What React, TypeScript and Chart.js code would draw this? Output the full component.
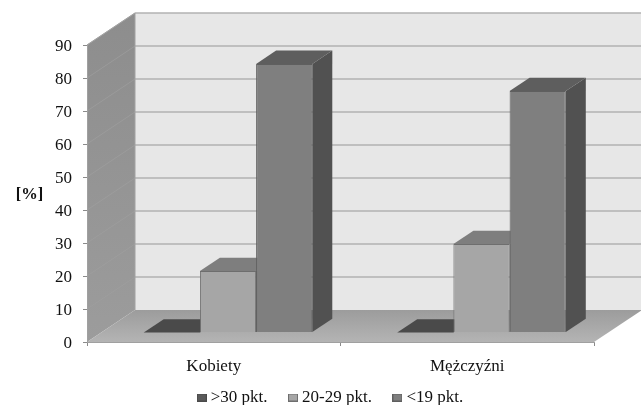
import React, { useEffect, useRef } from "react";
import { Chart, registerables } from "chart.js";

Chart.register(...registerables);

const categories = ["Kobiety", "Mężczyźni"];
const seriesNames = [">30 pkt.", "20-29 pkt.", "<19 pkt."];
const over30 = [0, 0];
const from20to29 = [18.6, 26.8];
const under19 = [81.4, 73.2];

const SERIF = "'Liberation Serif', 'Times New Roman', serif";
const WALL_DX = 48;
const WALL_DY = 32;
const BAR_FRONT_DX = 14.25;
const BAR_FRONT_DY = 9.5;
const BAR_DEPTH_DX = 20;
const BAR_DEPTH_DY = 13.3;

const shades = [
  { front: "#5a5a5a", top: "#4a4a4a", side: "#3c3c3c", line: "#4a4a4a" },
  { front: "#a6a6a6", top: "#7e7e7e", side: "#6c6c6c", line: "#6e6e6e" },
  { front: "#7f7f7f", top: "#5e5e5e", side: "#515151", line: "#5f5f5f" },
];

function poly(ctx: CanvasRenderingContext2D, pts: number[][], fill: string | CanvasGradient, stroke?: string) {
  ctx.beginPath();
  pts.forEach(([x, y], i) => (i ? ctx.lineTo(x, y) : ctx.moveTo(x, y)));
  ctx.closePath();
  ctx.fillStyle = fill;
  ctx.fill();
  if (stroke) {
    ctx.strokeStyle = stroke;
    ctx.lineWidth = 1;
    ctx.stroke();
  }
}

function legendSwatch(fill: string, line: string) {
  const c = document.createElement("canvas");
  c.width = 10;
  c.height = 8;
  const g = c.getContext("2d") as CanvasRenderingContext2D;
  g.fillStyle = fill;
  g.fillRect(0, 0, 10, 8);
  g.strokeStyle = line;
  g.strokeRect(0.5, 0.5, 9, 7);
  return c;
}

const scene3d = {
  id: "scene3d",
  afterLayout(chart: any) {
    const lg = chart.legend;
    lg.left = 23.5;
    lg.right = 641;
    lg.top = 364;
    lg.bottom = 405;
    // let the category labels use the room below the axis
    chart.scales.x.bottom = 390;
  },
  beforeDraw(chart: any) {
    const { ctx, chartArea: a, scales } = chart;
    const y = scales.y;
    ctx.save();
    ctx.fillStyle = "#ffffff";
    ctx.fillRect(0, 0, chart.width, chart.height);

    // nudge value labels to sit on their tick the way the reference does
    y.getLabelItems().forEach((item: any) => {
      if (!item.__nudged) {
        item.options.translation[1] += 1.5;
        item.__nudged = true;
      }
    });

    // back wall
    poly(ctx, [
      [a.left + WALL_DX, a.top - WALL_DY],
      [a.right + WALL_DX, a.top - WALL_DY],
      [a.right + WALL_DX, a.bottom - WALL_DY],
      [a.left + WALL_DX, a.bottom - WALL_DY],
    ], "#e7e7e7");

    // side wall
    const wg = ctx.createLinearGradient(0, a.top - WALL_DY, 0, a.bottom);
    wg.addColorStop(0, "#8d8d8d");
    wg.addColorStop(1, "#9c9c9c");
    poly(ctx, [
      [a.left, a.top],
      [a.left + WALL_DX, a.top - WALL_DY],
      [a.left + WALL_DX, a.bottom - WALL_DY],
      [a.left, a.bottom],
    ], wg);

    // floor
    const fg = ctx.createLinearGradient(0, a.bottom - WALL_DY, 0, a.bottom);
    fg.addColorStop(0, "#9c9c9c");
    fg.addColorStop(1, "#b4b4b4");
    poly(ctx, [
      [a.left, a.bottom],
      [a.right, a.bottom],
      [a.right + WALL_DX, a.bottom - WALL_DY],
      [a.left + WALL_DX, a.bottom - WALL_DY],
    ], fg);

    // grid lines on walls
    y.ticks.forEach((t: any) => {
      const py = y.getPixelForValue(t.value);
      if (t.value > 0) {
        ctx.strokeStyle = "#b2b2b2";
        ctx.lineWidth = 1.4;
        ctx.beginPath();
        ctx.moveTo(a.left + WALL_DX, py - WALL_DY);
        ctx.lineTo(a.right + WALL_DX, py - WALL_DY);
        ctx.stroke();
        ctx.strokeStyle = "#9f9f9f";
        ctx.lineWidth = 0.7;
        ctx.beginPath();
        ctx.moveTo(a.left, py);
        ctx.lineTo(a.left + WALL_DX, py - WALL_DY);
        ctx.stroke();
      }
    });

    // wall edge
    ctx.strokeStyle = "#a2a2a2";
    ctx.lineWidth = 1;
    ctx.beginPath();
    ctx.moveTo(a.left + WALL_DX, a.bottom - WALL_DY);
    ctx.lineTo(a.left + WALL_DX, a.top - WALL_DY);
    ctx.lineTo(a.left, a.top);
    ctx.stroke();

    // axis title
    ctx.fillStyle = "#111111";
    ctx.font = `bold 16.5px ${SERIF}`;
    ctx.textAlign = "center";
    ctx.textBaseline = "middle";
    ctx.fillText("[%]", 29.5, 195);
    ctx.restore();
  },
  beforeDatasetsDraw(chart: any) {
    const { ctx } = chart;
    chart.data.datasets.forEach((_: any, i: number) => {
      const meta = chart.getDatasetMeta(i);
      const s = shades[i];
      meta.data.forEach((el: any) => {
        const { x, y, base, width } = el.getProps(["x", "y", "base", "width"], true);
        const l = x - width / 2;
        const r = x + width / 2;
        ctx.save();
        ctx.translate(BAR_FRONT_DX, -BAR_FRONT_DY);
        poly(ctx, [
          [r, y],
          [r + BAR_DEPTH_DX, y - BAR_DEPTH_DY],
          [r + BAR_DEPTH_DX, base - BAR_DEPTH_DY],
          [r, base],
        ], s.side);
        poly(ctx, [
          [l, y],
          [r, y],
          [r + BAR_DEPTH_DX, y - BAR_DEPTH_DY],
          [l + BAR_DEPTH_DX, y - BAR_DEPTH_DY],
        ], s.top);
        el.draw(ctx);
        ctx.restore();
      });
    });
    return false;
  },
};

export default function App() {
  const ref = useRef<HTMLCanvasElement>(null);
  useEffect(() => {
    const seriesValues = [over30, from20to29, under19];
    const swatches = shades.map((s) => legendSwatch(s.front, s.line));
    const chart = new Chart(ref.current as HTMLCanvasElement, {
      type: "bar",
      data: {
        labels: categories,
        datasets: seriesNames.map((name, i) => ({
          label: name,
          data: seriesValues[i],
          backgroundColor: shades[i].front,
          borderColor: shades[i].line,
          borderWidth: 1,
          barPercentage: 1,
          categoryPercentage: 0.665,
        })),
      },
      options: {
        animation: false,
        responsive: false,
        devicePixelRatio: 1,
        events: [],
        layout: { padding: { top: 45, right: 47, left: 0, bottom: 0 } },
        plugins: {
          tooltip: { enabled: false },
          title: { display: false },
          legend: {
            position: "bottom",
            fullSize: true,
            labels: {
              usePointStyle: true,
              pointStyleWidth: 1,
              padding: 25,
              color: "#111111",
              font: { family: SERIF, size: 17 },
              generateLabels: (c: any) =>
                Chart.defaults.plugins.legend.labels
                  .generateLabels(c)
                  .map((item: any, i: number) => ({ ...item, pointStyle: swatches[i] })),
            },
          },
        },
        scales: {
          x: {
            afterFit: (s: any) => {
              s.height = Math.max(1, 63 - (s.chart.legend ? s.chart.legend.height : 0));
            },
            grid: { drawOnChartArea: false, drawTicks: true, tickLength: 4, color: "#8a8a8a" },
            border: { color: "#a0a0a0" },
            ticks: { color: "#111111", padding: 10, maxRotation: 0, font: { family: SERIF, size: 17 } },
          },
          y: {
            min: 0,
            max: 90,
            afterFit: (s: any) => { s.width = 87; },
            grid: { drawOnChartArea: false, drawTicks: true, tickLength: 4, color: "#8a8a8a" },
            border: { color: "#a0a0a0" },
            ticks: { stepSize: 10, color: "#111111", padding: 11, font: { family: SERIF, size: 17 } },
          },
        },
      },
      plugins: [scene3d],
    } as any);
    return () => chart.destroy();
  }, []);
  return (
    <div style={{ position: "fixed", left: 0, top: 0, width: 641, height: 405 }}>
      <canvas ref={ref} width={641} height={405} style={{ display: "block" }} />
    </div>
  );
}
